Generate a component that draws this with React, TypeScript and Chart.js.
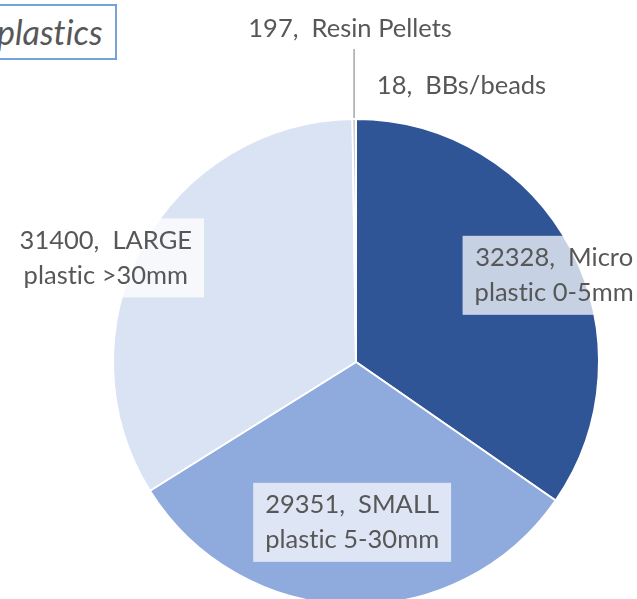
import React, { useEffect, useRef } from "react";
import { Chart, registerables } from "chart.js";

Chart.register(...registerables);

const categories = ["Micro plastic 0-5mm", "SMALL plastic 5-30mm", "LARGE plastic >30mm", "Resin Pellets", "BBs/beads"];
const labelLines = [
  ["32328,  Micro", "plastic 0-5mm"],
  ["29351,  SMALL", "plastic 5-30mm"],
  ["31400,  LARGE", "plastic >30mm"],
  ["197,  Resin Pellets"],
  ["18,  BBs/beads"],
];
const values = [32328, 29351, 31400, 197, 18];
const colors = ["#2F5597", "#8FAADC", "#DAE3F3", "#A5A5A5", "#7F7F7F"];
const titleText = "plastics";

const FONT = "25.5px Lato";
const TEXT_COLOR = "#575757";
const LINE_H = 35;

const labelPlugin = {
  id: "excelLabels",
  afterDraw(chart: any) {
    const ctx = chart.ctx as CanvasRenderingContext2D;
    const meta = chart.getDatasetMeta(0);
    ctx.save();
    ctx.font = FONT;
    try {
      (ctx as any).letterSpacing = "0.01px";
    } catch (e) {}
    ctx.textBaseline = "middle";
    const place = [
      { f: 0.89, shift: 4, bg: "rgba(255,255,255,0.73)" },
      { f: 0.66, shift: 0, bg: "rgba(255,255,255,0.7)" },
      { f: 1.115, shift: -6, bg: "rgba(255,255,255,0.75)" },
    ];
    meta.data.forEach((arc: any, i: number) => {
      const p = arc.getProps(["x", "y", "startAngle", "endAngle", "outerRadius"], true);
      const mid = (p.startAngle + p.endAngle) / 2;
      const r = p.outerRadius;
      const lines = labelLines[i];
      if (i < 3) {
        const a = mid + (place[i].shift * Math.PI) / 180;
        const cx = p.x + Math.cos(a) * r * place[i].f;
        const cy = p.y + Math.sin(a) * r * place[i].f;
        const w = Math.max(...lines.map((l) => ctx.measureText(l).width)) + 24;
        const h = lines.length * LINE_H + 9;
        ctx.fillStyle = place[i].bg;
        ctx.fillRect(cx - w / 2, cy - h / 2, w, h);
        ctx.fillStyle = TEXT_COLOR;
        ctx.textAlign = "center";
        lines.forEach((l, k) => {
          ctx.fillText(l, cx, cy - ((lines.length - 1) * LINE_H) / 2 + k * LINE_H);
        });
      } else if (i === 3) {
        const ox = p.x + Math.cos(mid) * r;
        const oy = p.y + Math.sin(mid) * r;
        ctx.strokeStyle = "#A6A6A6";
        ctx.lineWidth = 1.5;
        ctx.beginPath();
        ctx.moveTo(ox, oy - 1);
        ctx.lineTo(ox, oy - 70);
        ctx.stroke();
        ctx.fillStyle = TEXT_COLOR;
        ctx.textAlign = "center";
        ctx.fillText(lines[0], ox - 4, oy - 90);
      } else {
        const ox = p.x + Math.cos(mid) * r;
        const oy = p.y + Math.sin(mid) * r;
        ctx.fillStyle = TEXT_COLOR;
        ctx.textAlign = "left";
        ctx.fillText(lines[0], ox + 21, oy - 33);
      }
    });
    ctx.restore();
  },
};

export default function App() {
  const ref = useRef<HTMLCanvasElement>(null);
  useEffect(() => {
    document.body.style.margin = "0";
    const chart = new Chart(ref.current!, {
      type: "pie",
      data: {
        labels: categories,
        datasets: [
          {
            data: values,
            backgroundColor: colors,
            borderColor: "#FFFFFF",
            borderWidth: 2,
          },
        ],
      },
      options: {
        responsive: false,
        animation: false,
        devicePixelRatio: 1,
        layout: { padding: { left: 112, right: 37, top: 118, bottom: 34 } },
        plugins: {
          legend: { display: false },
          tooltip: { enabled: false },
          title: { display: false },
        },
      },
      plugins: [labelPlugin],
    });
    return () => chart.destroy();
  }, []);
  return (
    <div style={{ position: "fixed", left: 0, top: 0, width: 637, height: 599, overflow: "hidden", background: "#fff" }}>
      <canvas ref={ref} width={637} height={640} style={{ display: "block" }} />
      <div
        style={{
          position: "absolute",
          left: -12,
          top: 4,
          width: 129,
          height: 56,
          boxSizing: "border-box",
          border: "2px solid #74A3DA",
          background: "#fff",
          fontFamily: "Lato",
          fontStyle: "italic",
          fontSize: 34,
          fontVariantLigatures: "none",
          color: TEXT_COLOR,
          lineHeight: "52px",
          paddingLeft: 7,
          whiteSpace: "nowrap",
        }}
      >
        {titleText}
      </div>
    </div>
  );
}
